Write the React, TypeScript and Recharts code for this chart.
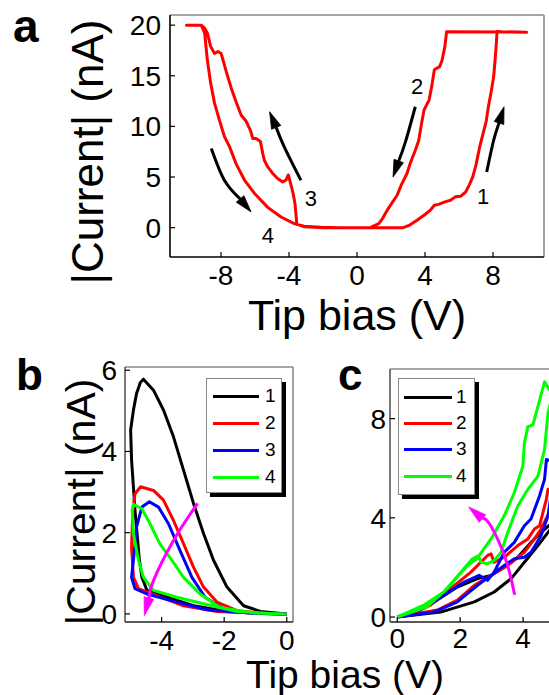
import React from 'react';
import { LineChart, Line, XAxis, YAxis, ReferenceLine, ReferenceDot } from 'recharts';

type P = [number, number];

// ---------------- Panel a ----------------
const aXTicks = [-8, -4, 0, 4, 8];
const aYTicks = [0, 5, 10, 15, 20];

const aBranch1: P[] = [
  [0, 0], [1.5, 0], [2.71, 0], [3.1, 0.25], [3.53, 0.73], [4.0, 1.3], [4.3, 1.7], [4.55, 2.21],
  [4.8, 2.3], [5.17, 2.54], [5.5, 2.7], [5.78, 3.04], [6.1, 3.1], [6.4, 3.53], [6.6, 4.2],
  [6.81, 5.02], [7.0, 6.2], [7.22, 7.99], [7.42, 9.31], [7.6, 10.5], [7.73, 11.95], [7.9, 13.5],
  [8.04, 14.92], [8.12, 16.5], [8.2, 18.3], [8.24, 19.37], [8.5, 19.35], [9.98, 19.3],
];
const aBranch2: P[] = [
  [9.98, 19.3], [5.27, 19.35], [5.17, 17.9], [5.0, 16.5], [4.86, 15.9], [4.55, 15.6], [4.4, 14.0],
  [4.24, 12.6], [3.94, 11.6], [3.8, 10.3], [3.63, 8.6], [3.43, 7.65], [3.12, 6.3], [2.94, 5.35],
  [2.6, 4.2], [2.36, 3.2], [2.0, 2.3], [1.77, 1.7], [1.5, 0.9], [1.28, 0.4], [0.86, 0.07],
  [0.8, 0], [-2.0, 0], [-3.1, 0.08], [-3.54, 0.35],
];
const aBranch3: P[] = [
  [-3.54, 0.35], [-3.6, 1.5], [-3.65, 2.4], [-3.75, 3.3], [-3.85, 4.0], [-4.04, 5.2], [-4.18, 4.7],
  [-4.37, 4.5], [-4.67, 4.85], [-4.96, 5.35], [-5.25, 6.0], [-5.45, 6.66], [-5.54, 7.3],
  [-5.68, 8.5], [-5.94, 8.8], [-6.13, 8.8], [-6.27, 9.6], [-6.52, 10.5], [-6.81, 11.1],
  [-7.11, 12.4], [-7.4, 13.8], [-7.69, 15.4], [-7.99, 17.2], [-8.18, 17.4], [-8.38, 17.2],
  [-8.61, 17.9], [-8.8, 19.2], [-8.96, 19.7], [-9.16, 20.0], [-10.03, 20.0],
];
const aBranch4: P[] = [
  [-10.03, 20], [-9.16, 20], [-8.96, 19.2], [-8.8, 16.5], [-8.61, 14.3], [-8.38, 12.3],
  [-8.09, 10.6], [-7.8, 9.0], [-7.5, 8.0], [-7.11, 6.3], [-6.62, 4.7], [-6.04, 3.4], [-5.25, 2.0],
  [-4.47, 1.05], [-3.69, 0.4], [-3.11, 0.13], [-2.13, 0.03], [-1.0, 0], [0, 0],
];
const aArrows: P[][] = [
  [[7.63, 5.5], [8.04, 8.64], [8.65, 11.94]],
  [[3.43, 11.94], [2.85, 8.47], [2.12, 5.0]],
  [[-3.3, 4.68], [-4.28, 7.98], [-5.14, 11.45]],
  [[-8.57, 7.82], [-7.8, 4.68], [-6.23, 1.55]],
];
const aArrowLabels = [
  { t: '1', x: 7.42, y: 3.03 },
  { t: '2', x: 3.53, y: 13.9 },
  { t: '3', x: -2.72, y: 2.87 },
  { t: '4', x: -5.25, y: -0.76 },
];

// ---------------- Panel b ----------------
const bXTicks = [-4, -2, 0];
const bYTicks = [0, 2, 4, 6];
const bCurve1: P[] = [
  [0, 0], [-0.84, 0.01], [-1.91, 0.06], [-2.98, 0.2], [-3.83, 0.41], [-4.47, 0.58], [-4.63, 0.9],
  [-4.71, 1.32], [-4.85, 2.55], [-4.96, 3.79], [-4.99, 4.53], [-4.9, 5.02], [-4.8, 5.43],
  [-4.68, 5.7], [-4.58, 5.78], [-4.26, 5.51], [-3.94, 5.02], [-3.62, 4.36], [-3.3, 3.54],
  [-2.98, 2.72], [-2.66, 1.98], [-2.34, 1.32], [-1.91, 0.66], [-1.38, 0.2], [-0.84, 0.06], [0, 0],
];
const bCurve2: P[] = [
  [0, 0], [-1.0, 0.02], [-2.23, 0.06], [-3.3, 0.2], [-4.15, 0.45], [-4.74, 0.62], [-4.9, 0.9],
  [-4.96, 1.64], [-4.92, 2.55], [-4.85, 2.96], [-4.67, 3.13], [-4.26, 3.04], [-3.94, 2.8],
  [-3.62, 2.3], [-3.3, 1.73], [-2.98, 1.15], [-2.66, 0.66], [-2.23, 0.29], [-1.59, 0.08],
  [-0.8, 0.01], [0, 0],
];
const bCurve3: P[] = [
  [0, 0], [-1.15, 0.02], [-2.55, 0.1], [-3.51, 0.29], [-4.47, 0.49], [-4.85, 0.62], [-4.96, 0.9],
  [-4.88, 1.48], [-4.8, 2.14], [-4.63, 2.63], [-4.39, 2.76], [-4.1, 2.63], [-3.78, 2.22],
  [-3.41, 1.56], [-3.03, 0.9], [-2.61, 0.41], [-2.02, 0.12], [-1.15, 0.02], [0, 0],
];
const bCurve4: P[] = [
  [0, 0], [-0.53, 0.01], [-1.59, 0.06], [-2.66, 0.25], [-3.51, 0.41], [-4.26, 0.58], [-4.58, 0.9],
  [-4.74, 1.32], [-4.9, 1.98], [-4.94, 2.55], [-4.9, 2.7], [-4.63, 2.59], [-4.37, 2.22],
  [-4.06, 1.73], [-3.67, 1.32], [-3.3, 0.9], [-2.77, 0.49], [-2.13, 0.16], [-1.06, 0.02], [0, 0],
];
const bArrow: P[] = [[-2.85, 2.72], [-3.62, 1.81], [-4.26, 0.82], [-4.55, -0.04]];

// ---------------- Panel c ----------------
const cXTicks = [0, 2, 4];
const cYTicks = [0, 4, 8];
const cCurve1: P[] = [
  [0, 0], [1.38, 0.2], [2.45, 0.61], [3.08, 1.01], [3.62, 1.55], [4.04, 2.21], [4.47, 2.88],
  [4.79, 3.41], [4.88, 3.55], [5.05, 3.9], [5.0, 4.0], [4.88, 3.75], [4.57, 3.41], [4.25, 3.01],
  [3.83, 2.41], [3.4, 2.01], [2.98, 1.68], [2.55, 1.55], [1.91, 1.21], [1.17, 0.61], [0.5, 0.15], [0, 0],
];
const cCurve2: P[] = [
  [0, 0], [1.28, 0.28], [1.91, 0.68], [2.45, 1.28], [2.98, 1.68], [3.51, 2.08], [4.04, 2.61],
  [4.36, 3.15], [4.57, 3.55], [4.88, 4.35], [5.05, 5.0], [5.0, 5.2], [4.88, 5.0], [4.79, 5.15],
  [4.74, 4.75], [4.52, 3.68], [4.36, 3.55], [4.15, 3.15], [3.83, 2.88], [3.4, 2.41], [3.08, 2.21],
  [2.98, 2.55], [2.87, 2.48], [2.34, 1.81], [1.7, 1.15], [1.06, 0.48], [0.5, 0.15], [0, 0],
];
const cCurve3: P[] = [
  [0, 0], [1.17, 0.2], [1.91, 0.61], [2.55, 1.28], [2.98, 1.68], [3.4, 2.08], [3.72, 2.35],
  [4.04, 2.41], [4.25, 2.61], [4.57, 3.28], [4.79, 4.08], [4.88, 4.88], [5.05, 6.0], [5.0, 6.4],
  [4.88, 6.3], [4.74, 6.35], [4.68, 5.55], [4.52, 4.88], [4.25, 3.95], [4.04, 3.68], [3.72, 3.01],
  [3.4, 2.61], [3.08, 1.81], [2.87, 1.48], [2.6, 1.68], [2.13, 1.41], [1.48, 0.88], [0.84, 0.35], [0, 0],
];
const cCurve4: P[] = [
  [0, 0], [0.95, 0.41], [1.59, 1.15], [2.23, 2.08], [2.6, 2.41], [2.66, 2.21], [2.87, 2.15],
  [3.08, 2.28], [3.3, 2.61], [3.51, 3.41], [3.83, 4.48], [4.15, 5.15], [4.47, 5.68], [4.68, 6.75],
  [4.79, 8.21], [4.88, 8.7], [5.0, 9.3], [5.05, 9.6], [4.84, 9.15], [4.68, 9.48], [4.47, 8.48],
  [4.31, 7.75], [4.15, 7.68], [4.04, 7.01], [3.99, 6.08], [3.72, 5.01], [3.4, 4.08], [2.98, 3.15],
  [2.6, 2.48], [2.39, 2.35], [2.02, 1.81], [1.48, 1.01], [0.84, 0.48], [0, 0],
];
const cArrow: P[] = [[3.73, 0.9], [3.44, 2.35], [2.96, 3.7], [2.27, 4.44]];

const seriesNames = ['1', '2', '3', '4'];
const seriesColors = ['#000000', '#ff0000', '#0000ff', '#00ff00'];
const bSeries = [bCurve1, bCurve2, bCurve3, bCurve4];
const cSeries = [cCurve1, cCurve2, cCurve3, cCurve4];

// ---------------- layout ----------------
const FONT = '"Liberation Sans", Arial, Helvetica, sans-serif';

type Cfg = {
  w: number; h: number; left: number; right: number; top: number; bottom: number;
  xDom: [number, number]; yDom: [number, number]; xTicks: number[]; yTicks: number[];
  yAxisW: number; xTickMargin: number; yTickMargin: number; leftColor: string; bottomColor: string;
};

const cfgA: Cfg = {
  w: 549, h: 695, left: 170, right: 544, top: 15, bottom: 257,
  xDom: [-11, 11], yDom: [-2.9, 21], xTicks: aXTicks, yTicks: aYTicks,
  yAxisW: 60, xTickMargin: 13, yTickMargin: 14, leftColor: '#000', bottomColor: '#000',
};
const cfgB: Cfg = {
  w: 549, h: 695, left: 125, right: 293, top: 367, bottom: 622,
  xDom: [-5.17, 0.2], yDom: [-0.2, 6.08], xTicks: bXTicks, yTicks: bYTicks,
  yAxisW: 40, xTickMargin: 13, yTickMargin: 13, leftColor: '#555', bottomColor: '#222',
};
const cfgC: Cfg = {
  w: 600, h: 695, left: 390, right: 559, top: 369, bottom: 622,
  xDom: [-0.23, 5.14], yDom: [-0.2, 10.0], xTicks: cXTicks, yTicks: cYTicks,
  yAxisW: 40, xTickMargin: 11, yTickMargin: 9, leftColor: '#555', bottomColor: '#222',
};

const scaleOf = (c: Cfg) => ({
  sx: (c.right - c.left) / (c.xDom[1] - c.xDom[0]),
  sy: (c.bottom - c.top) / (c.yDom[1] - c.yDom[0]),
});

const rows = (pts: P[]) => pts.map(([x, y]) => ({ x, y }));

function arrowLine(key: string, pts: P[], color: string, c: Cfg, width: number, headLen: number, headHalf: number) {
  const { sx, sy } = scaleOf(c);
  const n = pts.length;
  const [x0, y0] = pts[n - 2];
  const [x1, y1] = pts[n - 1];
  let dx = (x1 - x0) * sx;
  let dy = -(y1 - y0) * sy;
  const len = Math.hypot(dx, dy) || 1;
  dx /= len; dy /= len;
  const base: P = [x1 - (dx * headLen) / sx, y1 + (dy * headLen) / sy];
  const shaft = [...pts.slice(0, n - 1), base];
  const data = rows(shaft);
  const m = shaft.length;
  const dot = (p: any) => {
    const { cx, cy, index } = p;
    if (index !== m - 1 || cx == null || cy == null) return <g key={`${key}-d${index}`} />;
    const tx = cx + dx * headLen;
    const ty = cy + dy * headLen;
    const nx = -dy, ny = dx;
    const d = `M${tx},${ty} L${cx + nx * headHalf},${cy + ny * headHalf} L${cx - nx * headHalf},${cy - ny * headHalf} Z`;
    return <path key={`${key}-d${index}`} d={d} fill={color} stroke={color} strokeWidth={0.8} />;
  };
  return (
    <Line key={key} data={data} dataKey="y" type="natural" stroke={color} strokeWidth={width}
      dot={dot} activeDot={false} isAnimationActive={false} legendType="none" />
  );
}

function Panel({ c, children }: { c: Cfg; children: React.ReactNode }) {
  return (
    <div style={{ position: 'absolute', left: 0, top: 0 }}>
      <LineChart width={c.w} height={c.h}
        margin={{ top: c.top, left: c.left - c.yAxisW, right: c.w - c.right, bottom: c.h - c.bottom - 40 }}>
        <XAxis type="number" dataKey="x" domain={c.xDom} ticks={c.xTicks} allowDataOverflow interval={0}
          height={40} tickSize={-5} tickMargin={c.xTickMargin}
          axisLine={{ stroke: c.bottomColor, strokeWidth: 1.6 }} tickLine={{ stroke: '#000', strokeWidth: 1.2 }}
          tick={{ fontSize: 28, fill: '#000' }} />
        <YAxis type="number" domain={c.yDom} ticks={c.yTicks} allowDataOverflow interval={0}
          width={c.yAxisW} tickSize={-5} tickMargin={c.yTickMargin}
          axisLine={{ stroke: c.leftColor, strokeWidth: 1.6 }} tickLine={{ stroke: '#000', strokeWidth: 1.2 }}
          tick={{ fontSize: 28, fill: '#000' }} />
        <ReferenceLine y={c.yDom[1]} stroke="#8a8a8a" strokeWidth={1.6} />
        <ReferenceLine x={c.xDom[1]} stroke="#8a8a8a" strokeWidth={1.6} />
        {children}
      </LineChart>
    </div>
  );
}

function LegendBox({ left, top, width, height, lineX, lineW, textX, rowY }:
  { left: number; top: number; width: number; height: number; lineX: number; lineW: number; textX: number; rowY: number[] }) {
  return (
    <div style={{
      position: 'absolute', left, top, width, height, boxSizing: 'border-box',
      border: '1px solid #8a8a8a', boxShadow: '4px 4px 0 #000', background: '#fff',
    }}>
      {seriesNames.map((name, i) => (
        <React.Fragment key={name}>
          <div style={{ position: 'absolute', left: lineX, top: rowY[i] - 1.5, width: lineW, height: 3, background: seriesColors[i] }} />
          <div style={{ position: 'absolute', left: textX, top: rowY[i] - 11, fontSize: 19, lineHeight: '22px', color: '#000' }}>{name}</div>
        </React.Fragment>
      ))}
    </div>
  );
}

export default function App() {
  const loopA = [...aBranch1, ...aBranch2, ...aBranch3, ...aBranch4];
  return (
    <div style={{ position: 'absolute', left: 0, top: 0, width: 549, height: 695, overflow: 'hidden', background: '#fff', fontFamily: FONT }}>
      <Panel c={cfgA}>
        <Line data={rows(loopA)} dataKey="y" type="linear" stroke="#ff0000" strokeWidth={3}
          dot={false} activeDot={false} isAnimationActive={false} strokeLinejoin="round" />
        {aArrows.map((pts, i) => arrowLine(`aa${i}`, pts, '#000', cfgA, 3, 17, 5))}
        {aArrowLabels.map((l) => (
          <ReferenceDot key={`al${l.t}`} x={l.x} y={l.y} r={1}
            shape={(p: any) => (
              <text x={p.cx} y={p.cy} textAnchor="middle" dominantBaseline="central" fontSize={22} fill="#000">{l.t}</text>
            )} />
        ))}
      </Panel>

      <Panel c={cfgB}>
        {bSeries.map((pts, i) => (
          <Line key={`b${i}`} data={rows(pts)} dataKey="y" type="linear" stroke={seriesColors[i]} strokeWidth={3}
            dot={false} activeDot={false} isAnimationActive={false} strokeLinejoin="round" name={seriesNames[i]} />
        ))}
        {arrowLine('bArrow', bArrow, '#ff00ff', cfgB, 3, 18, 5)}
      </Panel>

      <Panel c={cfgC}>
        {cSeries.map((pts, i) => (
          <Line key={`c${i}`} data={rows(pts)} dataKey="y" type="linear" stroke={seriesColors[i]} strokeWidth={3}
            dot={false} activeDot={false} isAnimationActive={false} strokeLinejoin="round" name={seriesNames[i]} />
        ))}
        {arrowLine('cArrow', cArrow, '#ff00ff', cfgC, 3, 18, 5)}
      </Panel>

      <LegendBox left={206} top={378} width={76} height={115} lineX={6} lineW={46} textX={58} rowY={[17, 44, 71, 98]} />
      <LegendBox left={398} top={378} width={77} height={117} lineX={5} lineW={48} textX={57} rowY={[18, 44, 70, 97]} />

      <svg width={549} height={695} style={{ position: 'absolute', left: 0, top: 0, pointerEvents: 'none' }}>
        <text x={13} y={42} fontSize={46} fontWeight="bold" fill="#000">a</text>
        <text x={16} y={390} fontSize={44} fontWeight="bold" fill="#000">b</text>
        <text x={338} y={390} fontSize={44} fontWeight="bold" fill="#000">c</text>
        <text x={103} y={152} fontSize={44} textAnchor="middle" fill="#000" transform="rotate(-90 103 152)">|Current| (nA)</text>
        <text x={357} y={330} fontSize={43} textAnchor="middle" fill="#000">Tip bias (V)</text>
        <text x={95} y={502} fontSize={41} textAnchor="middle" fill="#000" transform="rotate(-90 95 502)">|Current| (nA)</text>
        <text x={345} y={688} fontSize={39} textAnchor="middle" fill="#000">Tip bias (V)</text>
      </svg>
    </div>
  );
}
